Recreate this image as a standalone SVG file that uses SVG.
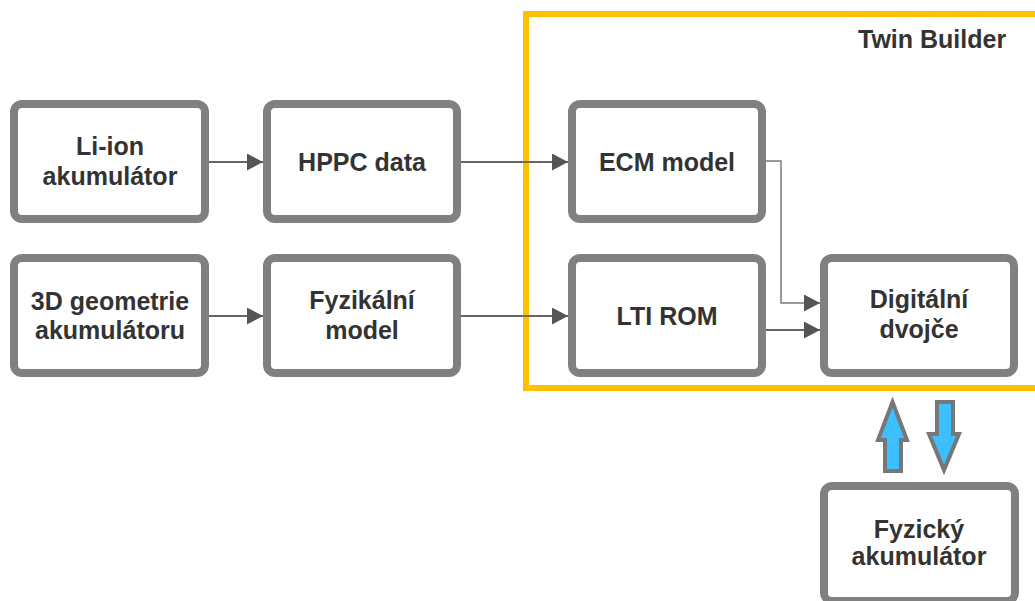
<svg xmlns="http://www.w3.org/2000/svg" width="1035" height="601" viewBox="0 0 1035 601">
<style>
.box{fill:#fff;stroke:#808080;stroke-width:8}
.t{font-family:"Liberation Sans",Arial,sans-serif;font-weight:bold;font-size:25px;fill:#333;text-anchor:middle}
.c{fill:none;stroke:#666;stroke-width:2}
.c2{fill:none;stroke:#7a7a7a;stroke-width:1.5}
.big{fill:#3DBEFF;stroke:#777;stroke-width:4;stroke-linejoin:miter}
</style>
<defs>
<marker id="ah" markerUnits="userSpaceOnUse" markerWidth="17" markerHeight="17" refX="16" refY="8.5" orient="auto">
<path d="M0,0 L16,8.5 L0,17 z" fill="#555"/>
</marker>
</defs>
<rect width="1035" height="601" fill="#fff"/>
<g id="twin-builder">
<rect x="526" y="14" width="600" height="374" fill="none" stroke="#FFC000" stroke-width="6"/>
<text class="t" x="858" y="48" style="text-anchor:start">Twin Builder</text>
</g>
<g id="connectors">
<path class="c" d="M209,162 H263" marker-end="url(#ah)"/>
<path class="c" d="M461,162 H568" marker-end="url(#ah)"/>
<path class="c" d="M209,316 H263" marker-end="url(#ah)"/>
<path class="c" d="M461,316 H568" marker-end="url(#ah)"/>
<path class="c2" d="M766,161 H781 V303 H820" marker-end="url(#ah)"/>
<path class="c" d="M766,330 H820" marker-end="url(#ah)"/>
<polygon class="big" points="892.5,402 907,440 901,440 901,471 885,471 885,440 878,440"/>
<polygon class="big" points="937,402 953,402 953,434 959,434 944,470 929,434 937,434"/>
</g>
<g id="li-ion">
<rect class="box" x="14" y="104" width="191" height="115" rx="8"/>
<text class="t" x="110" y="155">Li-ion</text>
<text class="t" x="110" y="185">akumulátor</text>
</g>
<g id="hppc">
<rect class="box" x="267" y="104" width="190" height="115" rx="8"/>
<text class="t" x="362" y="171">HPPC data</text>
</g>
<g id="ecm">
<rect class="box" x="572" y="104" width="190" height="115" rx="8"/>
<text class="t" x="667" y="171">ECM model</text>
</g>
<g id="geometrie">
<rect class="box" x="14" y="258" width="191" height="115" rx="8"/>
<text class="t" x="110" y="310">3D geometrie</text>
<text class="t" x="110" y="339">akumulátoru</text>
</g>
<g id="fyzikalni">
<rect class="box" x="267" y="258" width="190" height="115" rx="8"/>
<text class="t" x="362" y="309">Fyzikální</text>
<text class="t" x="362" y="339">model</text>
</g>
<g id="lti">
<rect class="box" x="572" y="258" width="190" height="115" rx="8"/>
<text class="t" x="667" y="325">LTI ROM</text>
</g>
<g id="digitalni">
<rect class="box" x="824" y="258" width="190" height="115" rx="8"/>
<text class="t" x="919" y="308">Digitální</text>
<text class="t" x="919" y="338">dvojče</text>
</g>
<g id="fyzicky">
<rect class="box" x="824" y="486" width="191" height="115" rx="8"/>
<text class="t" x="919" y="538">Fyzický</text>
<text class="t" x="919" y="565">akumulátor</text>
</g>
</svg>
